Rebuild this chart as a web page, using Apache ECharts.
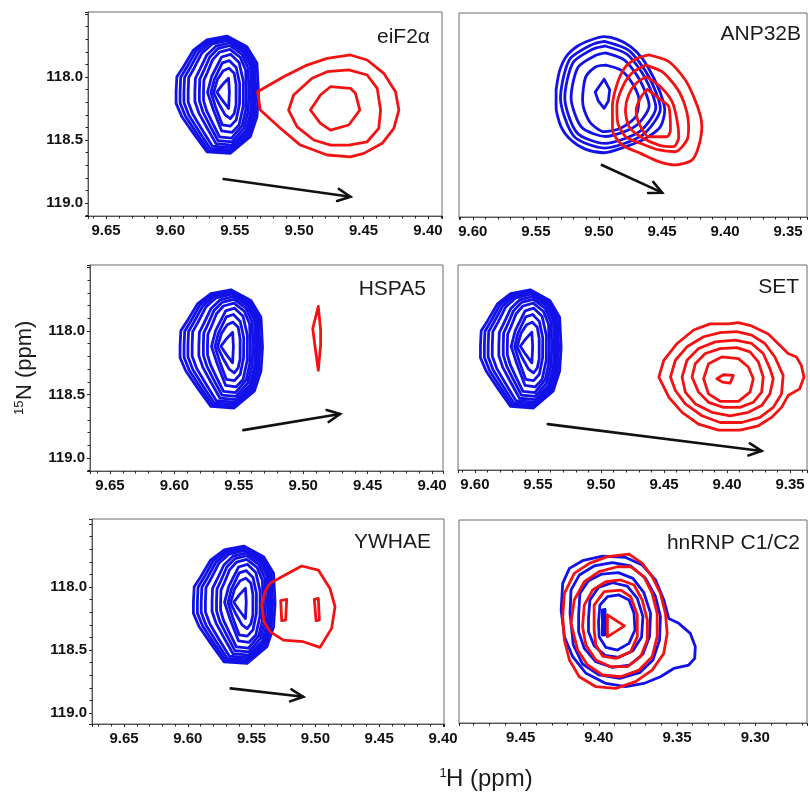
<!DOCTYPE html>
<html><head><meta charset="utf-8">
<script src="https://cdn.jsdelivr.net/npm/echarts@6/dist/echarts.min.js"></script>
<style>html,body{margin:0;padding:0;background:#fff}#c{width:810px;height:794px}</style>
</head><body><div id="c"></div>
<script>
// ---------------- data (ppm) ----------------
const xTicksLeft  = ['9.65','9.60','9.55','9.50','9.45','9.40'];
const xTicksRight = ['9.60','9.55','9.50','9.45','9.40','9.35'];
const xTicksHn    = ['9.45','9.40','9.35','9.30'];
const yTicks      = ['118.0','118.5','119.0'];
const panelNames  = ['eiF2\u03b1','ANP32B','HSPA5','SET','YWHAE','hnRNP C1/C2'];
const xTitle = ['1','H (ppm)'];
const yTitle = ['15','N (ppm)'];

// free-protein (blue) peak, reused in eiF2a, HSPA5, SET, YWHAE panels
const blueFree = [
 [[9.5956,118.117],[9.5950,117.998],[9.5899,117.918],[9.5821,117.786],[9.5717,117.706],[9.5561,117.675],[9.5406,117.760],[9.5328,117.891],[9.5316,118.129],[9.5328,118.315],[9.5380,118.474],[9.5536,118.606],[9.5717,118.593],[9.5821,118.447],[9.5911,118.315],[9.5956,118.209]],
 [[9.5925,118.117],[9.5920,118.001],[9.5873,117.923],[9.5801,117.793],[9.5705,117.715],[9.5561,117.685],[9.5418,117.768],[9.5346,117.896],[9.5335,118.129],[9.5346,118.310],[9.5394,118.466],[9.5538,118.595],[9.5705,118.582],[9.5801,118.439],[9.5884,118.310],[9.5925,118.207]],
 [[9.5895,118.116],[9.5890,118.003],[9.5847,117.928],[9.5780,117.803],[9.5692,117.727],[9.5559,117.698],[9.5427,117.778],[9.5360,117.902],[9.5350,118.127],[9.5360,118.303],[9.5405,118.453],[9.5538,118.578],[9.5692,118.566],[9.5780,118.428],[9.5857,118.303],[9.5895,118.203]],
 [[9.5862,118.114],[9.5858,118.005],[9.5817,117.932],[9.5756,117.811],[9.5675,117.738],[9.5552,117.710],[9.5431,117.787],[9.5370,117.907],[9.5360,118.125],[9.5370,118.294],[9.5410,118.439],[9.5533,118.560],[9.5675,118.548],[9.5756,118.415],[9.5827,118.294],[9.5862,118.198]],
 [[9.5810,118.114],[9.5806,118.010],[9.5771,117.940],[9.5717,117.825],[9.5646,117.755],[9.5539,117.728],[9.5432,117.802],[9.5378,117.916],[9.5370,118.124],[9.5378,118.286],[9.5414,118.425],[9.5521,118.540],[9.5646,118.529],[9.5717,118.401],[9.5779,118.286],[9.5810,118.194]],
 [[9.5775,118.113],[9.5772,118.016],[9.5741,117.950],[9.5694,117.841],[9.5631,117.775],[9.5538,117.750],[9.5444,117.820],[9.5397,117.928],[9.5390,118.123],[9.5397,118.276],[9.5429,118.406],[9.5522,118.515],[9.5631,118.504],[9.5694,118.384],[9.5748,118.276],[9.5775,118.189]],
 [[9.5743,118.115],[9.5740,118.025],[9.5713,117.964],[9.5673,117.864],[9.5619,117.803],[9.5538,117.780],[9.5457,117.844],[9.5416,117.944],[9.5410,118.124],[9.5416,118.264],[9.5443,118.385],[9.5525,118.485],[9.5619,118.475],[9.5673,118.364],[9.5720,118.264],[9.5743,118.185]],
 [[9.5533,117.82],[9.5467,117.884],[9.5433,118.036],[9.5434,118.228],[9.5467,118.381],[9.5522,118.44],[9.5602,118.428],[9.5667,118.26],[9.5712,118.122],[9.568,117.996],[9.5602,117.841]],
 [[9.5542,117.87],[9.5489,117.924],[9.5462,118.051],[9.5463,118.212],[9.5489,118.34],[9.5534,118.39],[9.5597,118.38],[9.5649,118.239],[9.5685,118.123],[9.5659,118.018],[9.5597,117.888]],
 [[9.5545,117.93],[9.5505,117.97],[9.549,118.06],[9.549,118.22],[9.5505,118.29],[9.5535,118.33],[9.5575,118.30],[9.5625,118.21],[9.5665,118.125],[9.5635,118.02],[9.559,117.95]],
 [[9.5548,118.01],[9.5542,118.12],[9.5548,118.25],[9.560,118.18],[9.564,118.12],[9.5595,118.06]]
];

const redEif2a = [
 [[9.5323,118.117],[9.5121,117.998],[9.4939,117.905],[9.4783,117.852],[9.4602,117.825],[9.4472,117.865],[9.4343,117.971],[9.4252,118.117],[9.4226,118.262],[9.4265,118.407],[9.4355,118.526],[9.4498,118.606],[9.4602,118.633],[9.4783,118.619],[9.4991,118.540],[9.5146,118.407],[9.5302,118.262]],
 [[9.5082,118.262],[9.5043,118.143],[9.4900,118.010],[9.4783,117.958],[9.4615,117.944],[9.4472,117.984],[9.4394,118.090],[9.4368,118.262],[9.4382,118.407],[9.4472,118.514],[9.4615,118.540],[9.4757,118.540],[9.4887,118.500],[9.5016,118.395]],
 [[9.4913,118.262],[9.4835,118.143],[9.4757,118.077],[9.4602,118.090],[9.4563,118.129],[9.4529,118.262],[9.4615,118.381],[9.4757,118.421],[9.4835,118.368]]
];

const blueAnp = [
 [[9.5340,118.103],[9.5314,117.958],[9.5261,117.839],[9.5169,117.754],[9.5064,117.706],[9.4959,117.680],[9.4854,117.701],[9.4749,117.759],[9.4657,117.852],[9.4578,117.984],[9.4512,118.130],[9.4478,118.262],[9.4512,118.394],[9.4630,118.487],[9.4788,118.553],[9.4959,118.601],[9.5104,118.574],[9.5222,118.500],[9.5301,118.394],[9.5340,118.236]],
 [[9.4956,117.717],[9.4763,117.789],[9.4605,117.996],[9.4513,118.252],[9.4653,118.459],[9.4956,118.564],[9.5198,118.471],[9.5305,118.168],[9.5234,117.863],[9.5052,117.741]],
 [[9.4953,117.754],[9.4776,117.820],[9.4633,118.009],[9.4549,118.242],[9.4676,118.431],[9.4953,118.527],[9.5174,118.442],[9.5271,118.165],[9.5206,117.887],[9.5041,117.775]],
 [[9.4948,117.809],[9.4797,117.866],[9.4674,118.028],[9.4602,118.228],[9.4711,118.390],[9.4948,118.472],[9.5137,118.399],[9.5221,118.162],[9.5166,117.923],[9.5024,117.828]],
 [[9.4946,117.905],[9.4828,117.944],[9.4736,118.05],[9.4683,118.18],[9.4709,118.315],[9.4828,118.407],[9.4959,118.434],[9.5064,118.368],[9.5117,118.262],[9.513,118.18],[9.5104,117.997],[9.5025,117.918]],
 [[9.4959,118.018],[9.4915,118.10],[9.4925,118.19],[9.4959,118.249],[9.5005,118.19],[9.503,118.12]]
];

const redAnp = [
 [[9.4604,117.825],[9.4446,117.878],[9.4315,118.024],[9.4249,118.156],[9.4197,118.302],[9.4184,118.394],[9.4210,118.553],[9.4262,118.659],[9.4394,118.698],[9.4525,118.672],[9.4670,118.606],[9.4814,118.540],[9.4893,118.421],[9.4893,118.235],[9.4854,118.050],[9.4788,117.918],[9.4696,117.852]],
 [[9.4630,117.905],[9.4499,117.958],[9.4381,118.090],[9.4315,118.235],[9.4289,118.394],[9.4302,118.500],[9.4394,118.593],[9.4525,118.579],[9.4670,118.526],[9.4788,118.474],[9.4850,118.368],[9.4858,118.235],[9.4818,118.090],[9.4740,117.971]],
 [[9.4625,117.997],[9.4512,118.077],[9.4420,118.196],[9.4381,118.341],[9.4367,118.474],[9.4407,118.553],[9.4525,118.540],[9.4670,118.474],[9.4762,118.394],[9.4790,118.262],[9.4765,118.143],[9.4705,118.050]],
 [[9.4617,118.098],[9.4525,118.169],[9.4446,118.235],[9.4433,118.421],[9.4460,118.474],[9.4604,118.474],[9.4683,118.368],[9.4705,118.262],[9.4665,118.156]]
];

const redHspa5 = [
 [[9.4883,117.807],[9.4865,117.99],[9.4865,118.11],[9.4883,118.31],[9.4908,118.125],[9.4926,117.98]]
];

const redSet = [
 [[9.4541,118.362],[9.4502,118.230],[9.4396,118.098],[9.4265,117.992],[9.4134,117.944],[9.3989,117.944],[9.3910,117.934],[9.3805,117.960],[9.3673,118.024],[9.3582,118.111],[9.3516,118.177],[9.3450,118.204],[9.3411,118.270],[9.3390,118.362],[9.3424,118.455],[9.3516,118.508],[9.3568,118.601],[9.3647,118.680],[9.3752,118.746],[9.3897,118.780],[9.4068,118.780],[9.4226,118.733],[9.4357,118.640],[9.4462,118.521]],
 [[9.4449,118.362],[9.4410,118.230],[9.4318,118.124],[9.4186,118.045],[9.4055,118.013],[9.3923,118.005],[9.3805,118.032],[9.3700,118.098],[9.3621,118.204],[9.3555,118.349],[9.3568,118.495],[9.3634,118.601],[9.3739,118.680],[9.3884,118.720],[9.4055,118.720],[9.4199,118.667],[9.4331,118.574],[9.4410,118.468]],
 [[9.4357,118.362],[9.4318,118.230],[9.4226,118.138],[9.4094,118.085],[9.3937,118.071],[9.3805,118.098],[9.3713,118.177],[9.3660,118.296],[9.3634,118.376],[9.3660,118.495],[9.3726,118.587],[9.3831,118.640],[9.3976,118.667],[9.4120,118.640],[9.4252,118.574],[9.4331,118.481]],
 [[9.4278,118.362],[9.4252,118.257],[9.4173,118.177],[9.4055,118.138],[9.3923,118.130],[9.3818,118.164],[9.3752,118.243],[9.3713,118.362],[9.3726,118.481],[9.3792,118.561],[9.3897,118.601],[9.4028,118.601],[9.4147,118.561],[9.4226,118.481]],
 [[9.4186,118.376],[9.4147,118.257],[9.4042,118.204],[9.3910,118.217],[9.3831,118.283],[9.3792,118.376],[9.3818,118.481],[9.3910,118.553],[9.4055,118.553],[9.4147,118.495]],
 [[9.4081,118.376],[9.4029,118.344],[9.3950,118.349],[9.3976,118.410],[9.4036,118.402]]
];

const redYwhae = [
 [[9.5356,117.971],[9.5238,117.905],[9.5108,117.833],[9.4977,117.865],[9.4886,118.011],[9.4846,118.156],[9.4873,118.328],[9.4964,118.479],[9.5095,118.434],[9.5251,118.421],[9.5356,118.354],[9.5403,118.275],[9.5421,118.143],[9.5395,118.037]],
 [[9.5272,118.108],[9.5225,118.098],[9.5233,118.262],[9.5264,118.267]],
 [[9.5008,118.098],[9.4977,118.090],[9.4969,118.262],[9.4995,118.267]]
];

const blueHn = [
 [[9.4241,118.182],[9.4231,117.971],[9.4188,117.852],[9.4104,117.791],[9.3977,117.754],[9.3828,117.765],[9.3722,117.825],[9.3637,117.944],[9.3584,118.103],[9.3553,118.249],[9.3489,118.288],[9.3415,118.368],[9.3383,118.473],[9.3387,118.566],[9.3425,118.619],[9.3521,118.646],[9.3606,118.712],[9.3712,118.765],[9.3828,118.791],[9.3955,118.765],[9.4082,118.685],[9.4167,118.553],[9.4220,118.394]],
 [[9.4184,118.209],[9.4178,118.024],[9.4125,117.905],[9.4030,117.833],[9.3913,117.807],[9.3796,117.833],[9.3701,117.931],[9.3637,118.077],[9.3606,118.235],[9.3612,118.421],[9.3654,118.579],[9.3739,118.680],[9.3866,118.725],[9.3998,118.698],[9.4104,118.611],[9.4163,118.460]],
 [[9.4129,118.222],[9.4121,118.050],[9.4066,117.950],[9.3981,117.897],[9.3875,117.886],[9.3782,117.931],[9.3712,118.045],[9.3669,118.209],[9.3676,118.394],[9.3718,118.532],[9.3803,118.619],[9.3913,118.638],[9.4019,118.593],[9.4093,118.487],[9.4129,118.355]],
 [[9.4066,118.249],[9.4057,118.103],[9.4002,118.003],[9.3913,117.966],[9.3818,117.992],[9.3754,118.090],[9.3718,118.235],[9.3727,118.399],[9.3782,118.505],[9.3871,118.558],[9.3960,118.542],[9.4030,118.466],[9.4066,118.355]],
 [[9.4002,118.275],[9.3993,118.143],[9.3945,118.077],[9.3871,118.063],[9.3807,118.103],[9.3775,118.209],[9.3769,118.341],[9.3807,118.447],[9.3881,118.500],[9.3955,118.479],[9.3998,118.394]],
 [[9.3977,118.182],[9.3960,118.177],[9.3960,118.381],[9.3977,118.381]]
];

const redHn = [
 [[9.4231,118.235],[9.4220,118.050],[9.4157,117.892],[9.4061,117.812],[9.3945,117.759],[9.3807,117.738],[9.3722,117.812],[9.3659,117.918],[9.3606,118.050],[9.3574,118.209],[9.3563,118.368],[9.3585,118.527],[9.3659,118.659],[9.3765,118.751],[9.3892,118.804],[9.4019,118.791],[9.4125,118.712],[9.4188,118.579],[9.4220,118.421]],
 [[9.4178,118.288],[9.4157,118.103],[9.4093,117.958],[9.3998,117.878],[9.3881,117.839],[9.3796,117.839],[9.3712,117.918],[9.3659,118.050],[9.3627,118.209],[9.3627,118.394],[9.3659,118.553],[9.3743,118.659],[9.3860,118.712],[9.3977,118.698],[9.4072,118.619],[9.4135,118.500]],
 [[9.4104,118.315],[9.4093,118.143],[9.4040,118.024],[9.3955,117.958],[9.3860,117.944],[9.3775,117.984],[9.3722,118.103],[9.3690,118.262],[9.3690,118.421],[9.3733,118.553],[9.3817,118.632],[9.3924,118.632],[9.4019,118.579],[9.4083,118.460]],
 [[9.4030,118.341],[9.4030,118.143],[9.3966,118.037],[9.3860,118.024],[9.3796,118.077],[9.3754,118.222],[9.3754,118.394],[9.3796,118.513],[9.3892,118.566],[9.3976,118.548],[9.4019,118.460]],
 [[9.3945,118.222],[9.3836,118.308],[9.3945,118.395]]
];

// chemical-shift arrows [x1,y1,x2,y2] per panel
const arrows = [
 [9.5587,118.810,9.4602,118.950],
 [9.4977,118.698,9.4499,118.918],
 [9.5465,118.780,9.4714,118.653],
 [9.5422,118.733,9.3726,118.944],
 [9.5664,118.804,9.5095,118.871],
 null
];

// ---------------- layout ----------------
const FONT = '"Liberation Sans", Arial, Helvetica, sans-serif';
const BLUE = '#1212e8', RED = '#f21212';
const panels = [
 {left:88, top:12, width:354, height:204, x:[9.3891,9.664], y:[117.484,119.103], xt:xTicksLeft, ylab:true,  blue:blueFree, red:redEif2a, lab:[430,37]},
 {left:459,top:13, width:350, height:204, x:[9.335,9.611],  y:[117.492,119.111], xt:xTicksRight,ylab:false, blue:blueAnp,  red:redAnp,   lab:[801,34], smooth:0.25},
 {left:90, top:265,width:353, height:206, x:[9.3915,9.6655],y:[117.480,119.102], xt:xTicksLeft, ylab:true,  blue:blueFree, red:redHspa5, lab:[426,289]},
 {left:458,top:265,width:351, height:205, x:[9.3366,9.6134],y:[117.480,119.094], xt:xTicksRight,ylab:false, blue:blueFree, red:redSet,   lab:[799,287]},
 {left:92, top:519,width:352, height:205, x:[9.3992,9.6751],y:[117.460,119.087], xt:xTicksLeft, ylab:true,  blue:blueFree, red:redYwhae, lab:[431,542]},
 {left:459,top:520,width:350, height:203, x:[9.2669,9.4894],y:[117.468,119.079], xt:xTicksHn,   ylab:false, blue:blueHn,   red:redHn,    lab:[800,543]}
];

function matchLabel(value, list, dec) {
  const s = value.toFixed(dec);
  return (list.indexOf(s) >= 0 && Math.abs(value - parseFloat(s)) < 1e-6) ? s : '';
}

const grid = [], xAxis = [], yAxis = [], series = [];
panels.forEach((p, i) => {
  grid.push({left:p.left, top:p.top, width:p.width, height:p.height, show:true,
             borderColor:'#6a6a6a', borderWidth:1, containLabel:false});
  xAxis.push({type:'value', gridIndex:i, inverse:true, min:p.x[0], max:p.x[1], splitNumber:5,
    axisLine:{show:true, lineStyle:{color:'#555', width:1}},
    axisTick:{show:true, length:3, lineStyle:{color:'#222', width:1}},
    minorTick:{show:true, splitNumber:5, length:2.5, lineStyle:{color:'#222', width:1}},
    splitLine:{show:false}, minorSplitLine:{show:false},
    axisLabel:{show:true, margin:7, color:'#111', fontSize:15, fontWeight:'bold', fontFamily:FONT,
      formatter: v => matchLabel(v, p.xt, 2)}
  });
  yAxis.push({type:'value', gridIndex:i, inverse:true, min:p.y[0], max:p.y[1], splitNumber:3,
    axisLine:{show:p.ylab, lineStyle:{color:'#555', width:1}},
    axisTick:{show:p.ylab, length:3, lineStyle:{color:'#222', width:1}},
    minorTick:{show:p.ylab, splitNumber:5, length:2.5, lineStyle:{color:'#222', width:1}},
    splitLine:{show:false}, minorSplitLine:{show:false},
    axisLabel:{show:p.ylab, margin:5, color:'#111', fontSize:15, fontWeight:'bold', fontFamily:FONT,
      formatter: v => matchLabel(v, yTicks, 1)}
  });
  const addPolys = (polys, color, z) => polys.forEach(poly => {
    series.push({type:'line', xAxisIndex:i, yAxisIndex:i, data: poly.concat([poly[0]]),
      symbol:'none', showSymbol:false, silent:true, smooth: (poly.length > 6 && p.smooth) ? p.smooth : false,
      lineStyle:{color:color, width:2.8, join:'round', cap:'round'}, z:z, animation:false});
  });
  addPolys(p.blue, BLUE, 2);
  addPolys(p.red, RED, 3);
  if (arrows[i]) {
    series.push({type:'custom', xAxisIndex:i, yAxisIndex:i, data:[arrows[i]], z:4, silent:true,
      encode:{x:[0,2], y:[1,3]}, animation:false,
      renderItem:(params, api) => {
        const a = api.coord([api.value(0), api.value(1)]);
        const b = api.coord([api.value(2), api.value(3)]);
        const ang = Math.atan2(b[1]-a[1], b[0]-a[0]);
        const L = 14, h = 0.45;
        const p1 = [b[0]-L*Math.cos(ang-h), b[1]-L*Math.sin(ang-h)];
        const p2 = [b[0]-L*Math.cos(ang+h), b[1]-L*Math.sin(ang+h)];
        return {type:'group', children:[
          {type:'line', shape:{x1:a[0],y1:a[1],x2:b[0],y2:b[1]}, style:{stroke:'#111', lineWidth:2.6, lineCap:'round'}},
          {type:'polyline', shape:{points:[p1,b,p2]}, style:{stroke:'#111', lineWidth:2.6, fill:null, lineCap:'round', lineJoin:'miter'}}
        ]};
      }});
  }
});

const graphic = panels.map((p, i) => ({type:'text', x:p.lab[0], y:p.lab[1], z:10,
  style:{text:panelNames[i], fill:'#1a1a1a', font:'21px ' + FONT, align:'right', verticalAlign:'middle'}}));
graphic.push({type:'text', x:443, y:773, style:{text:xTitle[0], fill:'#1a1a1a', font:'13px ' + FONT, align:'center', verticalAlign:'middle'}});
graphic.push({type:'text', x:446, y:779, style:{text:xTitle[1], fill:'#1a1a1a', font:'24px ' + FONT, align:'left', verticalAlign:'middle'}});
graphic.push({type:'group', x:25, y:367, rotation:Math.PI/2, children:[
  {type:'text', x:-48, y:-6, style:{text:yTitle[0], fill:'#1a1a1a', font:'13px ' + FONT, align:'left', verticalAlign:'middle'}},
  {type:'text', x:-33, y:0, style:{text:yTitle[1], fill:'#1a1a1a', font:'22px ' + FONT, align:'left', verticalAlign:'middle'}}
]});

const chart = echarts.init(document.getElementById('c'), null, {renderer:'canvas'});
chart.setOption({animation:false, backgroundColor:'#fff', grid, xAxis, yAxis, series, graphic});
</script></body></html>
